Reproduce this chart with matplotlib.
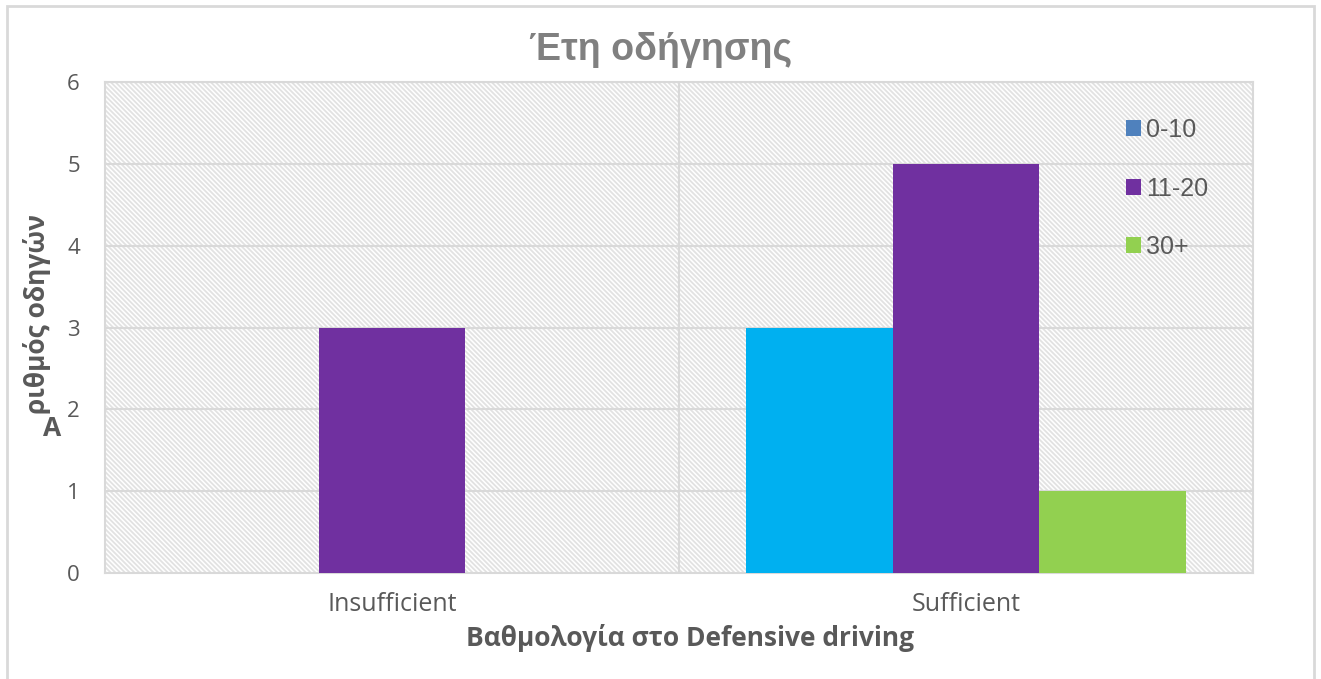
import matplotlib
matplotlib.use("Agg")
import matplotlib.pyplot as plt
import numpy as np
from matplotlib.patches import Rectangle, Patch

# data
categories = ["Insufficient", "Sufficient"]
series = ["0-10", "11-20", "30+"]
values_0_10 = [0, 3]
values_11_20 = [3, 5]
values_30 = [0, 1]
bar_colors = ["#00B0F0", "#7030A0", "#92D050"]
legend_colors = ["#4F81BD", "#7030A0", "#92D050"]

plt.rcParams["hatch.linewidth"] = 1.3

W, H = 1321, 679
fig = plt.figure(figsize=(W / 100, H / 100), dpi=100)
fig.patch.set_facecolor("white")

# outer chart border
fig.add_artist(Rectangle((7 / W, -0.02), (1314 - 7) / W, 1 - 6 / H + 0.02,
                         transform=fig.transFigure, facecolor="none",
                         edgecolor="#D9D9D9", lw=2))

ax = fig.add_axes([105 / W, 1 - 573 / H, (1253 - 105) / W, (573 - 82) / H])

# hatched plot area background
ax.add_patch(Rectangle((0, 0), 1, 1, transform=ax.transAxes, facecolor="white",
                       edgecolor="#E2E2E2", hatch="\\" * 7, lw=0, zorder=0))

x = np.arange(len(categories))
w = 0.256
all_vals = [values_0_10, values_11_20, values_30]
for i, vals in enumerate(all_vals):
    ax.bar(x + (i - 1) * w, vals, width=w, color=bar_colors[i], zorder=3)

ax.set_xlim(-0.5, 1.5)
ax.set_ylim(0, 6)
ax.set_yticks(range(0, 7))
ax.set_xticks(x)
ax.set_xticklabels(categories, fontsize=18, color="#595959", family="Open Sans")
for lab in ax.get_yticklabels():
    lab.set_fontsize(16)
    lab.set_color("#595959")
    lab.set_family("Open Sans")
ax.tick_params(axis="x", length=0, pad=14)
ax.tick_params(axis="y", length=0, pad=18)

for yv in range(1, 7):
    ax.axhline(yv, color="#D9D9D9", lw=1.5, zorder=1)
ax.axvline(0.5, color="#D9D9D9", lw=1.5, zorder=1)
for s in ax.spines.values():
    s.set_color("#D9D9D9")
    s.set_linewidth(1.5)

fig.text(661 / W, 1 - 50 / H, "Έτη οδήγησης", ha="center", va="center",
         fontsize=27, fontweight="bold", color="#808080", family="Liberation Sans")
fig.text(690 / W, 1 - 638 / H, "Βαθμολογία στο Defensive driving", ha="center",
         va="center", fontsize=19, fontweight="bold", color="#595959", family="Open Sans")
fig.text(37 / W, 1 - 314 / H, "ριθμός οδηγών", ha="center", va="center", rotation=90,
         fontsize=19, fontweight="bold", color="#595959", family="Open Sans")
fig.text(52 / W, 1 - 428 / H, "Α", ha="center", va="center",
         fontsize=19, fontweight="bold", color="#595959", family="Open Sans")

handles = [Patch(facecolor=c, edgecolor="none") for c in legend_colors]
leg = ax.legend(handles, series, loc="upper left", bbox_to_anchor=(0.87, 0.972),
                frameon=False, labelspacing=1.38, handlelength=0.6,
                handleheight=0.6, handletextpad=0.2,
                prop={"family": "Liberation Sans", "size": 18})
for t in leg.get_texts():
    t.set_color("#595959")

fig.savefig("out.png", dpi=100)
